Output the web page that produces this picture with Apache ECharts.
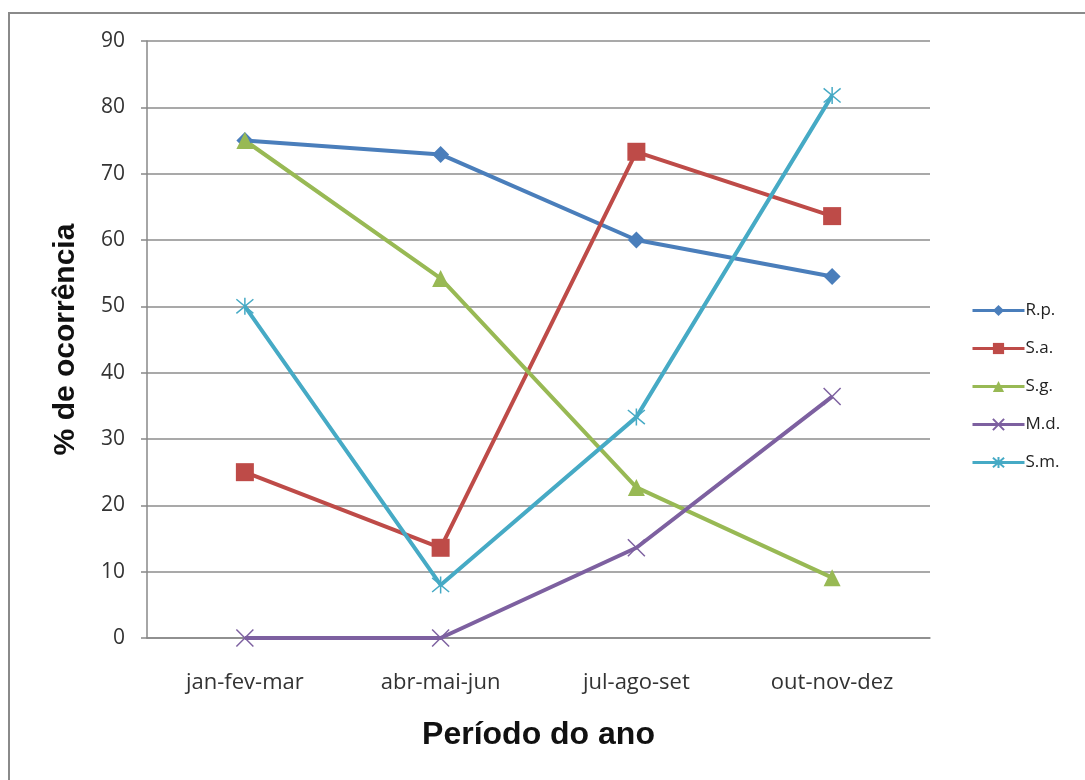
<!DOCTYPE html>
<html>
<head>
<meta charset="utf-8">
<script src="https://cdn.jsdelivr.net/npm/echarts@6/dist/echarts.min.js"></script>
<style>
    html, body { margin: 0; padding: 0; background: #fff; }
    #occurrence { width: 1085px; height: 780px; }
</style>
</head>
<body>
<div id="occurrence"></div>
<script>
    // dados
    var periods = ['jan-fev-mar', 'abr-mai-jun', 'jul-ago-set', 'out-nov-dez'];
    var rp = [75, 72.9, 60, 54.5];
    var sa = [25, 13.6, 73.3, 63.6];
    var sg = [75, 54.2, 22.7, 9.1];
    var md = [0, 0, 13.6, 36.4];
    var sm = [50, 8, 33.3, 81.8];
    var yTicks = [0, 10, 20, 30, 40, 50, 60, 70, 80, 90];

    var crossPath = 'path://M0,0 L10,10 M10,0 L0,10';
    var starPath = 'path://M0,0 L10,10 M10,0 L0,10 M5,-1 L5,11';

    function lineSeries(name, data, color, symbol, size, stroke) {
        return {
            name: name,
            type: 'line',
            data: data,
            symbol: symbol,
            symbolSize: size,
            color: color,
            lineStyle: { color: color, width: 4 },
            itemStyle: stroke ? { color: color, borderColor: color, borderWidth: 1.5 } : { color: color },
            emphasis: { disabled: true },
            z: 3
        };
    }

    var myChart = echarts.init(document.getElementById('occurrence'));
    myChart.setOption({
        animation: false,
        graphic: [{
            type: 'rect',
            shape: { x: 9, y: 13, width: 1200, height: 900 },
            style: { fill: 'none', stroke: '#8a8a8a', lineWidth: 2 },
            silent: true
        }],
        grid: { left: 147, right: 155, top: 41, bottom: 142 },
        legend: {
            orient: 'vertical',
            left: 966,
            top: 297,
            itemWidth: 52,
            itemHeight: 14,
            itemGap: 21,
            lineStyle: { width: 3 },
            textStyle: { fontFamily: 'Open Sans', fontSize: 17, color: '#222', padding: [0, 0, 0, -4] },
            data: ['R.p.', 'S.a.', 'S.g.', 'M.d.', 'S.m.']
        },
        xAxis: {
            type: 'category',
            data: periods,
            name: 'Período do ano',
            nameLocation: 'middle',
            nameGap: 81,
            nameTextStyle: { fontFamily: 'Liberation Sans', fontWeight: 'bold', fontSize: 32, color: '#111' },
            axisLine: { lineStyle: { color: '#888', width: 1.5 } },
            axisTick: { show: false },
            axisLabel: { margin: 34, fontFamily: 'Open Sans', fontSize: 22, color: '#333' }
        },
        yAxis: {
            type: 'value',
            min: yTicks[0],
            max: yTicks[yTicks.length - 1],
            interval: 10,
            name: '% de ocorrência',
            nameLocation: 'middle',
            nameGap: 66,
            nameTextStyle: { fontFamily: 'Liberation Sans', fontWeight: 'bold', fontSize: 30, color: '#111' },
            axisLine: { show: true, lineStyle: { color: '#888', width: 1.5 } },
            axisTick: { show: true, length: 6, lineStyle: { color: '#888', width: 1.5 } },
            axisLabel: { margin: 22, fontFamily: 'Open Sans', fontSize: 21, color: '#333' },
            splitLine: { lineStyle: { color: '#8c8c8c', width: 1.5 } }
        },
        series: [
            lineSeries('R.p.', rp, '#4a7ebb', 'diamond', 17, false),
            lineSeries('S.a.', sa, '#be4b48', 'rect', 18, false),
            lineSeries('S.g.', sg, '#98b954', 'triangle', 17, false),
            lineSeries('M.d.', md, '#7d60a0', crossPath, 17, true),
            lineSeries('S.m.', sm, '#46aac5', starPath, 17, true)
        ]
    });
</script>
</body>
</html>
